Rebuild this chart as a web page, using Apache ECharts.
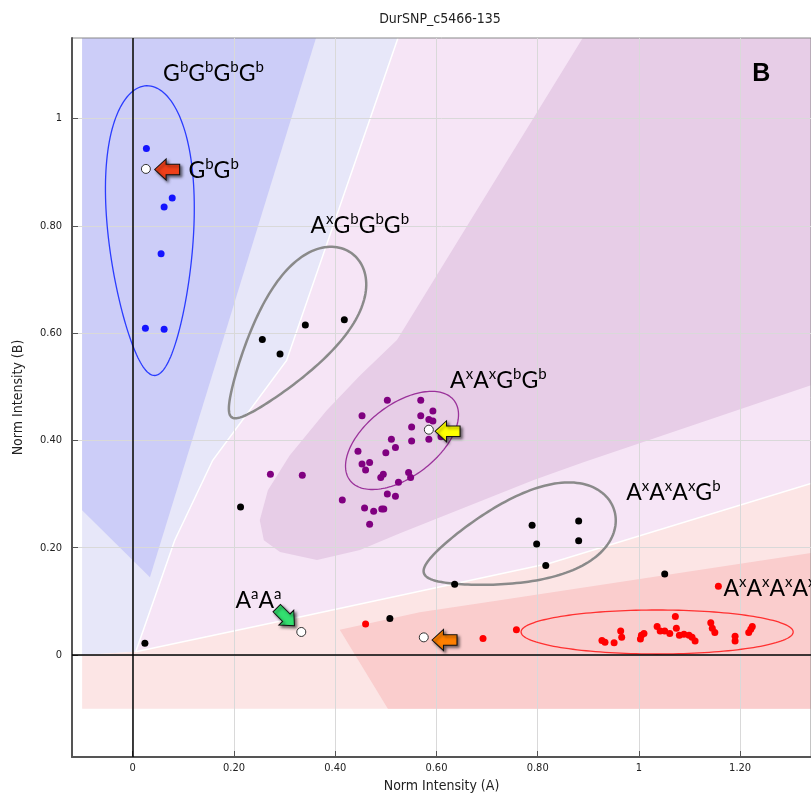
<!DOCTYPE html>
<html>
<head>
<meta charset="utf-8">
<title>DurSNP_c5466-135</title>
<script src="https://cdn.jsdelivr.net/npm/echarts@6/dist/echarts.min.js"></script>
<style>
  html, body { margin: 0; padding: 0; background: #fff; }
  #chart { width: 811px; height: 795px; }
</style>
</head>
<body>
<div id="chart"></div>
<script>
// tick positions
const xTicks = [0, 0.2, 0.4, 0.6, 0.8, 1, 1.2];
const yTicks = [0, 0.2, 0.4, 0.6, 0.8, 1];

// genotype calls [normA, normB]
const blueCalls = [[0.027, 0.944], [0.078, 0.852], [0.062, 0.835], [0.056, 0.748], [0.025, 0.609], [0.062, 0.607]];
const purpleCalls = [
  [0.503, 0.475], [0.569, 0.475], [0.453, 0.446], [0.593, 0.455], [0.569, 0.446], [0.585, 0.439],
  [0.593, 0.436], [0.551, 0.425], [0.609, 0.407], [0.585, 0.402], [0.551, 0.399], [0.511, 0.402],
  [0.519, 0.387], [0.445, 0.380], [0.500, 0.377], [0.453, 0.356], [0.468, 0.359], [0.460, 0.345],
  [0.495, 0.337], [0.490, 0.331], [0.545, 0.340], [0.549, 0.331], [0.525, 0.322], [0.414, 0.289],
  [0.503, 0.300], [0.519, 0.296], [0.458, 0.274], [0.476, 0.268], [0.492, 0.272], [0.496, 0.272],
  [0.272, 0.337], [0.335, 0.335], [0.468, 0.244]
];
const redCalls = [
  [0.460, 0.058], [0.692, 0.031], [0.758, 0.047], [1.157, 0.128], [0.927, 0.027], [0.933, 0.024],
  [0.951, 0.023], [0.964, 0.045], [0.966, 0.033], [1.003, 0.030], [1.005, 0.037], [1.010, 0.040],
  [1.072, 0.072], [1.036, 0.053], [1.042, 0.045], [1.051, 0.045], [1.061, 0.040], [1.074, 0.050],
  [1.080, 0.037], [1.089, 0.039], [1.099, 0.037], [1.105, 0.033], [1.111, 0.026], [1.142, 0.060],
  [1.145, 0.050], [1.150, 0.042], [1.190, 0.035], [1.190, 0.026], [1.221, 0.048], [1.224, 0.053],
  [1.217, 0.042]
];
const blackCalls = [
  [0.256, 0.588], [0.291, 0.561], [0.341, 0.615], [0.418, 0.625], [0.789, 0.242], [0.881, 0.250],
  [0.798, 0.207], [0.881, 0.213], [0.816, 0.167], [1.051, 0.151], [0.636, 0.132], [0.508, 0.068],
  [0.213, 0.276], [0.024, 0.022]
];
// reference samples (open circles)
const refSamples = [[0.026, 0.906], [0.585, 0.420], [0.333, 0.043], [0.575, 0.033]];

// arrows pointing at reference samples
const arrowPos = [[0.068, 0.905], [0.622, 0.417], [0.302, 0.071], [0.616, 0.028]];
const arrowTurn = [0, 0, 135, 0];

// genotype labels
const labelTexts = [
  'G{s|b}G{s|b}G{s|b}G{s|b}', 'G{s|b}G{s|b}', 'A{s|x}G{s|b}G{s|b}G{s|b}', 'A{s|x}A{s|x}G{s|b}G{s|b}',
  'A{s|x}A{s|x}A{s|x}G{s|b}', 'A{s|x}A{s|x}A{s|x}A{s|x}', 'A{s|a}A{s|a}'
];
const labelPos = [[0.059, 1.084], [0.109, 0.903], [0.350, 0.801], [0.626, 0.512], [0.974, 0.302], [1.166, 0.123], [0.202, 0.101]];
const panelLetter = 'B';
const panelPos = [1.223, 1.082];

// cluster boundaries: centre, half major axis, half minor axis, egg factor
const ringCentres = [[0.0356, 0.791], [0.314, 0.596], [0.532, 0.400], [0.763, 0.212], [1.036, 0.043]];
const ringMajor = [[-0.0079, 0.270], [0.1186, 0.1527], [0.1028, 0.0745], [0.1877, 0.0596], [0.2688, 0]];
const ringMinor = [[0.085, 0.0019], [0.0638, -0.0439], [0.0435, -0.0531], [0.0265, -0.0741], [0, -0.041]];
const ringEgg = [0.25, 0.45, 0, 0.4, 0];

// call regions (polygons in data space)
const regionLavender = [[-0.1, 1.15], [0.524, 1.15], [0.304, 0.549], [0.158, 0.363], [0.083, 0.214], [0.006, 0.006], [-0.1, 0]];
const regionPink = [[0.524, 1.15], [1.34, 1.15], [1.34, 0.32], [0.824, 0.171], [0.330, 0.071], [0.006, 0.006], [0.083, 0.214], [0.158, 0.363], [0.304, 0.549]];
const regionSalmonLight = [[0.006, 0.006], [0.330, 0.071], [0.824, 0.171], [1.34, 0.32], [1.34, -0.1], [-0.1, -0.1], [-0.1, 0]];
const regionSalmon = [[0.409, 0.047], [0.567, 0.080], [0.725, 0.102], [1.34, 0.19], [1.34, -0.1], [0.504, -0.1]];
const regionMauve = [
  [0.889, 1.15], [1.34, 1.15], [1.34, 0.503], [0.889, 0.359], [0.791, 0.326], [0.528, 0.227],
  [0.449, 0.196], [0.364, 0.177], [0.291, 0.192], [0.259, 0.214], [0.251, 0.251], [0.267, 0.307],
  [0.310, 0.372], [0.383, 0.456], [0.449, 0.521], [0.522, 0.587]
];
const regionBlue = [[-0.1, 1.15], [0.362, 1.15], [0.034, 0.145], [-0.1, 0.27]];
const edgeUpper = [[0.524, 1.15], [0.304, 0.549], [0.158, 0.363], [0.083, 0.214], [0.006, 0.006]];
const edgeLower = [[0.006, 0.006], [0.330, 0.071], [0.824, 0.171], [1.34, 0.32]];

const regions = [regionLavender, regionPink, regionSalmonLight, regionSalmon, regionMauve, regionBlue];
const regionColors = ['#e7e7f9', '#f6e5f6', '#fce5e5', '#facdcd', '#e7cde7', '#cccdf8'];
const edges = [edgeUpper, edgeLower];
const ringColors = ['#2a3cff', '#8a8a8a', '#9a329a', '#8a8a8a', '#ff3030'];
const ringWidths = [1.3, 2.5, 1.3, 2.5, 1.3];
const arrowColors = ['#f0401a', '#ffff00', '#33e070', '#ff8000'];

const narrow = "'Liberation Sans Narrow', 'DejaVu Sans Condensed', 'Arial Narrow', sans-serif";
const arrowPath = 'path://M0,10 L11,0 L11,5 L24,5 L24,15 L11,15 L11,20 Z';

function tickText(v) {
  return (v === 0 || v === 1) ? String(v) : v.toFixed(2);
}

const chart = echarts.init(document.getElementById('chart'));

chart.setOption({
  animation: false,
  graphic: [{
    type: 'text', x: 440, y: 19,
    style: { text: 'DurSNP_c5466-135', fontFamily: narrow, fontSize: 14, fill: '#222', textAlign: 'center', textVerticalAlign: 'middle' }
  }],
  grid: {
    left: 72, right: 0, top: 38, bottom: 38, outerBoundsMode: 'none', containLabel: false,
    show: true, borderColor: '#888', borderWidth: 1, backgroundColor: 'transparent'
  },
  xAxis: {
    type: 'value', min: -0.12, max: 1.34,
    name: 'Norm Intensity (A)', nameLocation: 'middle', nameGap: 21,
    nameTextStyle: { fontFamily: narrow, fontSize: 14, color: '#222' },
    axisLine: { onZero: false, lineStyle: { color: '#555', width: 2 } },
    axisTick: { inside: true, length: 6, customValues: xTicks, lineStyle: { color: '#555' } },
    axisLabel: { customValues: xTicks, formatter: tickText, fontFamily: narrow, fontSize: 11, color: '#222', margin: 6 },
    splitLine: { show: true, lineStyle: { color: '#d9d9d9', width: 1 } }
  },
  yAxis: {
    type: 'value', min: -0.19, max: 1.15,
    name: 'Norm Intensity (B)', nameLocation: 'middle', nameGap: 47,
    nameTextStyle: { fontFamily: narrow, fontSize: 14, color: '#222' },
    axisLine: { onZero: false, lineStyle: { color: '#555', width: 2 } },
    axisTick: { inside: true, length: 6, customValues: yTicks, lineStyle: { color: '#555' } },
    axisLabel: { customValues: yTicks, formatter: tickText, fontFamily: narrow, fontSize: 11, color: '#222', margin: 10 },
    splitLine: { show: true, lineStyle: { color: '#d9d9d9', width: 1 } }
  },
  series: [
    {
      // shaded call regions, under the grid lines
      type: 'custom', z: -1, silent: true,
      data: regions.map((r, i) => [r[0][0], r[0][1], i]),
      encode: { x: 0, y: 1 },
      renderItem: (params, api) => {
        const i = api.value(2);
        return {
          type: 'polygon',
          shape: { points: regions[i].map(p => api.coord(p)) },
          style: { fill: regionColors[i] }
        };
      }
    },
    {
      // white borders between regions
      type: 'custom', z: -1, silent: true,
      data: edges.map((e, i) => [e[0][0], e[0][1], i]),
      encode: { x: 0, y: 1 },
      renderItem: (params, api) => ({
        type: 'polyline', z2: 10,
        shape: { points: edges[api.value(2)].map(p => api.coord(p)) },
        style: { fill: 'none', stroke: '#ffffff', lineWidth: 1.5 }
      })
    },
    {
      // zero axes
      type: 'scatter', z: 1, silent: true, data: [],
      markLine: {
        silent: true, symbol: 'none', label: { show: false },
        lineStyle: { color: '#000', width: 1.5, type: 'solid' },
        data: [{ xAxis: 0 }, { yAxis: 0 }]
      }
    },
    {
      // cluster boundary rings
      type: 'custom', z: 2, silent: true,
      data: ringCentres.map((c, i) => [c[0], c[1], i]),
      encode: { x: 0, y: 1 },
      renderItem: (params, api) => {
        const i = api.value(2);
        const c = ringCentres[i], a = ringMajor[i], b = ringMinor[i], k = ringEgg[i];
        const pts = [];
        for (let s = 0; s < 160; s++) {
          const t = s / 160 * Math.PI * 2;
          const st = Math.sin(t);
          const ct = Math.cos(t) * (1 + k * st);
          pts.push(api.coord([c[0] + st * a[0] + ct * b[0], c[1] + st * a[1] + ct * b[1]]));
        }
        return {
          type: 'polygon', shape: { points: pts },
          style: { fill: 'none', stroke: ringColors[i], lineWidth: ringWidths[i] }
        };
      }
    },
    { type: 'scatter', z: 3, data: blueCalls, symbolSize: 7, itemStyle: { color: '#1414ff', opacity: 1 } },
    { type: 'scatter', z: 3, data: purpleCalls, symbolSize: 7, itemStyle: { color: '#800080', opacity: 1 } },
    { type: 'scatter', z: 3, data: redCalls, symbolSize: 7, itemStyle: { color: '#ff0000', opacity: 1 } },
    { type: 'scatter', z: 3, data: blackCalls, symbolSize: 7, itemStyle: { color: '#000', opacity: 1 } },
    { type: 'scatter', z: 4, data: refSamples, symbolSize: 9, itemStyle: { color: '#fff', borderColor: '#333', borderWidth: 1, opacity: 1 } },
    {
      type: 'scatter', z: 4, symbol: arrowPath, symbolSize: [25, 21],
      data: arrowPos.map((p, i) => ({
        value: p, symbolRotate: arrowTurn[i],
        itemStyle: { color: arrowColors[i] }
      })),
      itemStyle: {
        opacity: 1, borderColor: '#111', borderWidth: 1,
        shadowBlur: 3, shadowColor: 'rgba(0,0,0,0.55)', shadowOffsetX: 2, shadowOffsetY: 2
      }
    },
    {
      // genotype labels
      type: 'scatter', z: 5, silent: true, symbolSize: 1,
      itemStyle: { color: 'transparent', opacity: 1 },
      data: labelPos.map((p, i) => ({ value: p, name: labelTexts[i] })).concat([{
        value: panelPos, name: panelLetter,
        label: { fontFamily: "'Liberation Sans', Arial, sans-serif", fontWeight: 'bold', fontSize: 25, color: '#000' }
      }]),
      label: {
        show: true, position: 'right', distance: 0, opacity: 1,
        formatter: p => p.name,
        fontFamily: 'Lato, sans-serif', fontSize: 23, lineHeight: 28, color: '#000',
        rich: { s: { fontFamily: 'Lato, sans-serif', fontSize: 15, lineHeight: 16, verticalAlign: 'top', color: '#000' } }
      }
    }
  ]
});
</script>
</body>
</html>
